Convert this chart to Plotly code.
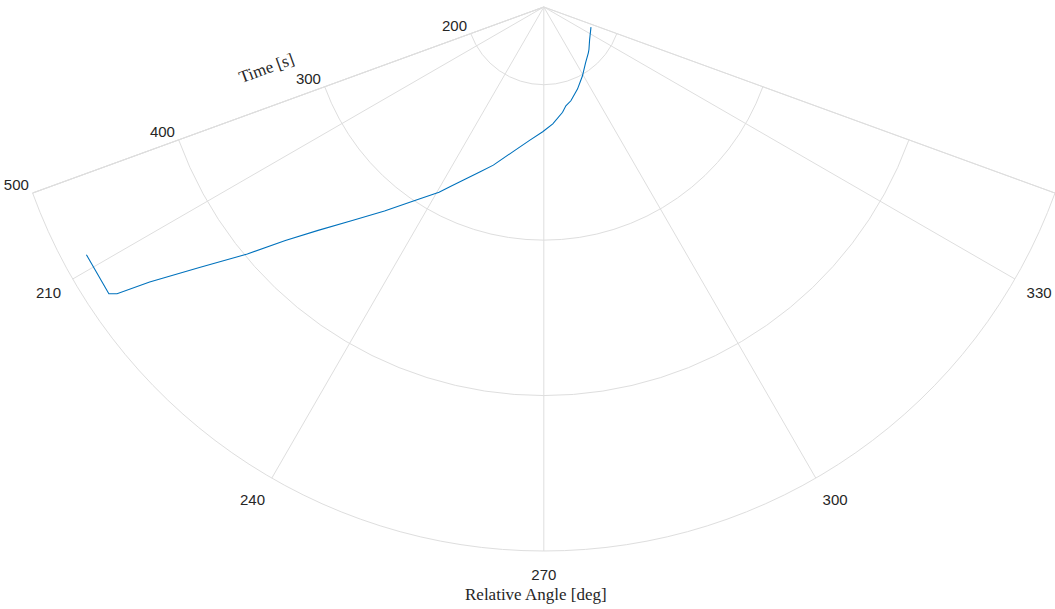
import plotly.graph_objects as go

# Trajectory: relative angle [deg] vs time [s]
angle_deg = [336.9, 324.5, 316.7, 314.2, 306.9, 299.2, 292.3, 286.1, 282.6, 280.1,
             274.4, 269.5, 263.9, 258.0, 252.3, 248.9, 245.1, 242.5, 240.5,
             236.2, 232.0, 228.0, 224.7, 222.1, 219.8, 217.1, 214.9, 213.9, 213.4,
             208.45]
time_s = [183.0, 186.2, 189.9, 191.1, 194.8, 200.9, 207.1, 212.8, 215.1, 218.8,
          225.4, 230.3, 236.3, 245.1, 256.8, 263.6, 272.7, 280.2, 286.9,
          300.0, 316.5, 335.0, 354.3, 374.1, 398.3, 427.8, 459.2, 480.8, 485.2,
          484.7]

theta_ticks = [200, 210, 240, 270, 300, 330, 340]
theta_labels = ["", "210", "240", "270", "300", "330", ""]
r_ticks = [200, 300, 400, 500]
r_labels = ["200", "300", "400", "500"]

W, H = 1055, 609
R = 544.0
cx_right = 1055.0
half_w = 0.9396926 * R
x0 = cx_right - 2 * half_w
top = 7.0

grid = "#dedede"
tickfont = dict(family="Liberation Sans, Arial, sans-serif", size=15, color="#262626")
serif = dict(family="Liberation Serif, Times New Roman, serif", size=17, color="#262626")

fig = go.Figure()
fig.add_trace(go.Scatterpolar(
    r=time_s, theta=angle_deg, mode="lines",
    line=dict(color="#0072BD", width=1.1), showlegend=False,
))

fig.update_layout(
    width=W, height=H,
    margin=dict(l=0, r=0, t=0, b=0, pad=0),
    paper_bgcolor="white",
    polar=dict(
        domain=dict(x=[x0 / W, 1.0], y=[(H - top - R) / H, (H - top) / H]),
        sector=[200, 340],
        bgcolor="white",
        angularaxis=dict(
            direction="counterclockwise", rotation=0,
            tickmode="array", tickvals=theta_ticks, ticktext=theta_labels,
            showgrid=True, gridcolor=grid, gridwidth=1,
            showline=True, linecolor=grid, linewidth=1,
            ticks="outside", ticklen=10, tickcolor="rgba(0,0,0,0)",
            tickfont=tickfont,
        ),
        radialaxis=dict(
            range=[150, 500], angle=200, side="clockwise",
            tickmode="array", tickvals=r_ticks, ticktext=r_labels,
            showgrid=True, gridcolor=grid, gridwidth=1,
            showline=True, linecolor=grid, linewidth=1,
            ticks="", tickfont=tickfont, tickangle=-160,
        ),
    ),
    annotations=[
        dict(text="Time [s]", x=266 / W, y=(H - 69) / H, xref="paper", yref="paper",
             xanchor="center", yanchor="middle",
             showarrow=False, textangle=-20, font=serif),
        dict(text="Relative Angle [deg]", x=536 / W, y=(H - 594) / H, xref="paper", yref="paper",
             xanchor="center", yanchor="middle",
             showarrow=False, font=serif),
    ],
)

fig.write_html("out.html")
